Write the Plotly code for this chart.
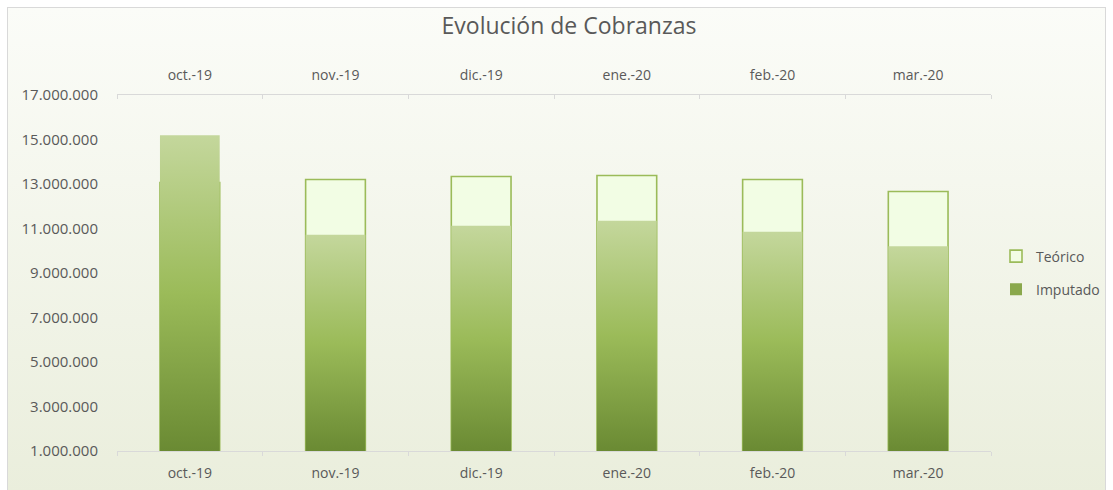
import base64
import plotly.graph_objects as go

# ---- data ----
categories = ["oct.-19", "nov.-19", "dic.-19", "ene.-20", "feb.-20", "mar.-20"]
teorico = [13070000, 13200000, 13340000, 13380000, 13200000, 12660000]
imputado = [15190000, 10720000, 11120000, 11350000, 10850000, 10200000]
y_ticks = [1000000, 3000000, 5000000, 7000000, 9000000, 11000000, 13000000, 15000000, 17000000]
title_text = "Evolución de Cobranzas"

# ---- layout constants ----
W, H = 1113, 490
ML, MR, MT, MB = 117, 122, 95, 39
PW, PH = W - ML - MR, H - MT - MB
Y_MIN, Y_MAX = y_ticks[0], y_ticks[-1]
BAR_W = 0.41
TXT = "#595959"
FONT = "Open Sans"
AX_LINE = "#d9d9d9"
GRAD = [[0, "#6a8a33"], [0.5, "#9bbb59"], [1, "#c4d79c"]]

idx = list(range(len(categories)))

fig = go.Figure()

# Teórico bars (drawn first, underneath)
fig.add_trace(go.Bar(
    x=idx, y=teorico, width=BAR_W, name="Teórico",
    marker=dict(color="#f2fde4", line=dict(color="#9bbb59", width=1.6)),
    legendgroup="t",
))

# legend-only entry for Imputado (square swatch)
fig.add_trace(go.Bar(
    x=[idx[0]], y=[None], name="Imputado", width=BAR_W,
    marker=dict(color="#8aa84c", line=dict(width=0)),
    legendgroup="i", hoverinfo="skip",
))

# Imputado bars as gradient-filled shapes (one per bar so each gets its own gradient)
for i, v in zip(idx, imputado):
    xs = [i - BAR_W / 2, i + BAR_W / 2, i + BAR_W / 2, i - BAR_W / 2, i - BAR_W / 2]
    ys = [Y_MIN, Y_MIN, v, v, Y_MIN]
    fig.add_trace(go.Scatter(
        x=xs, y=ys, mode="lines", fill="toself", name="Imputado",
        line=dict(width=0, color="#9bbb59"),
        fillgradient=dict(type="vertical", colorscale=GRAD),
        legendgroup="i", showlegend=False, hoverinfo="skip",
    ))

# background: gradient panel with thin border, as SVG image covering whole figure
svg = f'''<svg xmlns="http://www.w3.org/2000/svg" width="{W}" height="{H}" viewBox="0 0 {W} {H}">
<defs><linearGradient id="g" x1="0" y1="0" x2="0" y2="1">
<stop offset="0" stop-color="#fbfcf8"/><stop offset="1" stop-color="#eaeedc"/></linearGradient></defs>
<rect x="0" y="0" width="{W}" height="{H}" fill="#ffffff"/>
<rect x="7.5" y="7.5" width="{W-15}" height="{H-4}" fill="url(#g)" stroke="#d9d9d9" stroke-width="1"/>
</svg>'''
src = "data:image/svg+xml;base64," + base64.b64encode(svg.encode()).decode()

fig.add_layout_image(dict(
    source=src, xref="paper", yref="paper",
    x=-ML / PW, y=1 + MT / PH, sizex=W / PW, sizey=H / PH,
    xanchor="left", yanchor="top", sizing="stretch", layer="below",
))

xcommon = dict(
    range=[-0.5, len(categories) - 0.5],
    tickmode="array", tickvals=idx, ticktext=categories,
    ticks="", showgrid=False, zeroline=False,
    showline=True, linecolor=AX_LINE, linewidth=1.3,
    tickfont=dict(family=FONT, size=14, color=TXT),
    fixedrange=True,
)
minor_vals = [i - 0.5 for i in idx] + [idx[-1] + 0.5]

fig.update_layout(
    width=W, height=H,
    margin=dict(l=ML, r=MR, t=MT, b=MB, pad=0, autoexpand=False),
    paper_bgcolor="#ffffff", plot_bgcolor="rgba(0,0,0,0)",
    separators=",.",
    barmode="overlay",
    title=dict(text=title_text, x=569 / W, xanchor="center", xref="container",
               y=1 - 26 / H, yanchor="middle", yref="container",
               font=dict(family=FONT, size=23, color=TXT)),
    xaxis=dict(**xcommon, ticklabelstandoff=9,
               minor=dict(tickmode="array", tickvals=minor_vals,
                          ticks="outside", ticklen=4, tickcolor=AX_LINE, tickwidth=1)),
    xaxis2=dict(**xcommon, ticklabelstandoff=8, overlaying="x", side="top", anchor="y", matches="x",
                minor=dict(tickmode="array", tickvals=minor_vals,
                           ticks="inside", ticklen=4, tickcolor=AX_LINE, tickwidth=1)),
    yaxis=dict(range=[Y_MIN, Y_MAX], tickmode="array", tickvals=y_ticks,
               tickformat=",d", exponentformat="none",
               showgrid=False, zeroline=False, showline=False, ticks="",
               tickfont=dict(family=FONT, size=15, color=TXT),
               ticklabelstandoff=18, fixedrange=True),
    legend=dict(x=(996 - ML) / PW, y=(MT + PH - 273) / PH, xanchor="left", yanchor="middle",
                font=dict(family=FONT, size=14, color=TXT), bgcolor="rgba(0,0,0,0)",
                traceorder="grouped", tracegroupgap=12, itemwidth=30),
    showlegend=True,
)

# invisible trace so the top axis is rendered
fig.add_trace(go.Scatter(x=[idx[0]], y=[Y_MIN], xaxis="x2", mode="markers",
                         marker=dict(opacity=0), showlegend=False, hoverinfo="skip"))

fig.write_html("out.html", config={"displayModeBar": False},
               post_script="document.body.style.margin='0';")
